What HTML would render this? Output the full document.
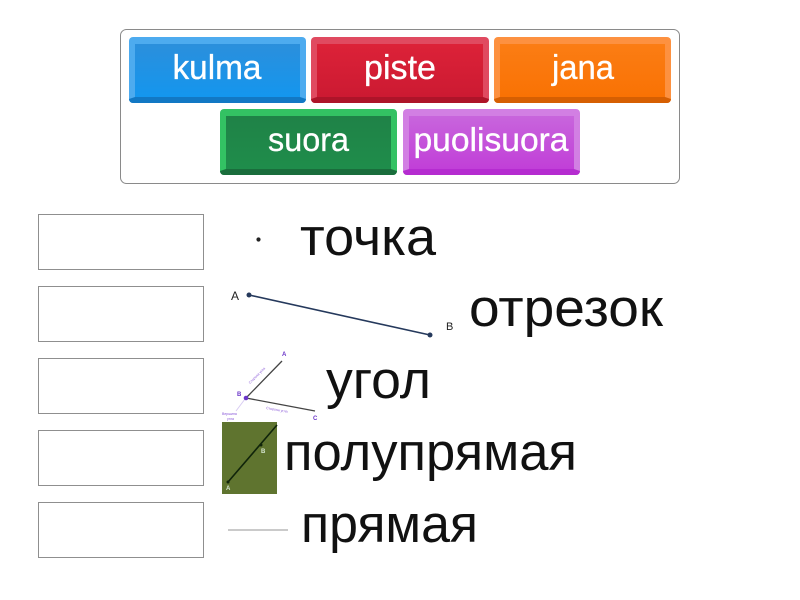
<!DOCTYPE html>
<html>
<head>
<meta charset="utf-8">
<style>
html,body{margin:0;padding:0;background:#fff;width:800px;height:600px;overflow:hidden}
svg{display:block}
text{font-family:"Liberation Sans","DejaVu Sans",sans-serif}
</style>
</head>
<body>
<svg width="800" height="600" viewBox="0 0 800 600" xmlns="http://www.w3.org/2000/svg">
<defs>
<linearGradient id="gb" x1="0" y1="0" x2="0" y2="1"><stop offset="0" stop-color="#2b8fdc"/><stop offset="1" stop-color="#1496ee"/></linearGradient>
<linearGradient id="gr" x1="0" y1="0" x2="0" y2="1"><stop offset="0" stop-color="#dc2238"/><stop offset="1" stop-color="#cc1a32"/></linearGradient>
<linearGradient id="go" x1="0" y1="0" x2="0" y2="1"><stop offset="0" stop-color="#fb7d14"/><stop offset="1" stop-color="#f97204"/></linearGradient>
<linearGradient id="gg" x1="0" y1="0" x2="0" y2="1"><stop offset="0" stop-color="#1f8247"/><stop offset="1" stop-color="#1f8d4b"/></linearGradient>
<linearGradient id="gp" x1="0" y1="0" x2="0" y2="1"><stop offset="0" stop-color="#c865dc"/><stop offset="1" stop-color="#c13fd8"/></linearGradient>
</defs>

<rect x="120.500" y="29.500" width="559" height="154" rx="6" fill="#fff" stroke="#8a8a8a" stroke-width="1"/>

<!-- kulma -->
<rect x="129" y="37" width="177" height="66" rx="4" fill="#4dabef"/>
<path d="M135 97 L300 97 L306 99 A4 4 0 0 1 302 103 L133 103 A4 4 0 0 1 129 99Z" fill="#1278c4"/>
<rect x="135" y="44" width="165" height="53" fill="url(#gb)"/>
<text x="217" y="79" font-size="34" fill="#fff" stroke="#fff" stroke-width="0.300" text-anchor="middle" textLength="89" lengthAdjust="spacingAndGlyphs">kulma</text>

<!-- piste -->
<rect x="311" y="37" width="178" height="66" rx="4" fill="#e04a60"/>
<path d="M317 97 L483 97 L489 99 A4 4 0 0 1 485 103 L315 103 A4 4 0 0 1 311 99Z" fill="#ae1429"/>
<rect x="317" y="44" width="166" height="53" fill="url(#gr)"/>
<text x="400" y="79" font-size="34" fill="#fff" stroke="#fff" stroke-width="0.300" text-anchor="middle" textLength="72" lengthAdjust="spacingAndGlyphs">piste</text>

<!-- jana -->
<rect x="494" y="37" width="177" height="66" rx="4" fill="#fd9140"/>
<path d="M500 97 L665 97 L671 99 A4 4 0 0 1 667 103 L498 103 A4 4 0 0 1 494 99Z" fill="#d65f02"/>
<rect x="500" y="44" width="165" height="53" fill="url(#go)"/>
<text x="583" y="79" font-size="34" fill="#fff" stroke="#fff" stroke-width="0.300" text-anchor="middle" textLength="62" lengthAdjust="spacingAndGlyphs">jana</text>

<!-- suora -->
<rect x="220" y="109" width="177" height="66" rx="4" fill="#33c263"/>
<path d="M226 169 L391 169 L397 171 A4 4 0 0 1 393 175 L224 175 A4 4 0 0 1 220 171Z" fill="#1a6d3c"/>
<rect x="226" y="116" width="165" height="53" fill="url(#gg)"/>
<text x="308.500" y="151" font-size="33" fill="#fff" stroke="#fff" stroke-width="0.300" text-anchor="middle" textLength="81" lengthAdjust="spacingAndGlyphs">suora</text>

<!-- puolisuora -->
<rect x="403" y="109" width="177" height="66" rx="4" fill="#d27fe3"/>
<path d="M409 169 L574 169 L580 171 A4 4 0 0 1 576 175 L407 175 A4 4 0 0 1 403 171Z" fill="#b52cd0"/>
<rect x="409" y="116" width="165" height="53" fill="url(#gp)"/>
<text x="491" y="151" font-size="33" fill="#fff" stroke="#fff" stroke-width="0.300" text-anchor="middle" textLength="155" lengthAdjust="spacingAndGlyphs">puolisuora</text>

<!-- empty boxes -->
<rect x="38.500" y="214.500" width="165" height="55" fill="#fff" stroke="#8f8f8f"/>
<rect x="38.500" y="286.500" width="165" height="55" fill="#fff" stroke="#8f8f8f"/>
<rect x="38.500" y="358.500" width="165" height="55" fill="#fff" stroke="#8f8f8f"/>
<rect x="38.500" y="430.500" width="165" height="55" fill="#fff" stroke="#8f8f8f"/>
<rect x="38.500" y="502.500" width="165" height="55" fill="#fff" stroke="#8f8f8f"/>

<!-- russian labels -->
<text x="300" y="255" font-size="53" fill="#111" textLength="136" lengthAdjust="spacingAndGlyphs">точка</text>
<text x="469" y="326" font-size="53" fill="#111" textLength="194" lengthAdjust="spacingAndGlyphs">отрезок</text>
<text x="326" y="398" font-size="53" fill="#111" textLength="105" lengthAdjust="spacingAndGlyphs">угол</text>
<text x="284" y="470" font-size="53" fill="#111" textLength="293" lengthAdjust="spacingAndGlyphs">полупрямая</text>
<text x="301" y="542" font-size="53" fill="#111" textLength="177" lengthAdjust="spacingAndGlyphs">прямая</text>

<!-- point -->
<circle cx="258.500" cy="239.500" r="2.100" fill="#222"/>

<!-- segment -->
<line x1="249" y1="295" x2="430" y2="335" stroke="#25395c" stroke-width="1.600"/>
<circle cx="249" cy="295" r="2.500" fill="#25395c"/>
<circle cx="430" cy="335" r="2.500" fill="#25395c"/>
<text x="231" y="300" font-size="12" fill="#222">A</text>
<text x="446" y="330" font-size="11" fill="#222">B</text>

<!-- angle -->
<line x1="246" y1="398" x2="282" y2="361" stroke="#444" stroke-width="1.300"/>
<line x1="246" y1="398" x2="315" y2="411" stroke="#444" stroke-width="1.300"/>
<line x1="236" y1="411" x2="245" y2="399" stroke="#d8ccf2" stroke-width="1"/>
<circle cx="246" cy="398" r="2.300" fill="#6a35c8"/>
<text x="282" y="356" font-size="6" font-weight="bold" fill="#6a35c8">A</text>
<text x="237" y="396" font-size="6" font-weight="bold" fill="#6a35c8">B</text>
<text x="313" y="420" font-size="6" font-weight="bold" fill="#6a35c8">C</text>
<text x="250" y="384" font-size="3.500" fill="#8a5ad8" transform="rotate(-45 250 384)">Сторона угла</text>
<text x="266" y="409" font-size="3.500" fill="#8a5ad8" transform="rotate(10 266 409)">Сторона угла</text>
<text x="222" y="415" font-size="3.500" fill="#8a5ad8">Вершина</text>
<text x="227" y="420" font-size="3.500" fill="#8a5ad8">угла</text>

<!-- ray image -->
<rect x="222" y="422" width="55" height="72" fill="#5f742f"/>
<line x1="228" y1="482" x2="277" y2="425" stroke="#10240a" stroke-width="1.600"/>
<circle cx="228" cy="482" r="1.500" fill="#10240a"/>
<circle cx="261" cy="445" r="1.500" fill="#10240a"/>
<text x="226" y="490" font-size="6" font-weight="bold" fill="#d5e5d0">A</text>
<text x="261" y="453" font-size="6" font-weight="bold" fill="#d5e5d0">B</text>

<!-- line -->
<line x1="228" y1="530" x2="288" y2="530" stroke="#aaa" stroke-width="1.300"/>
</svg>
</body>
</html>
